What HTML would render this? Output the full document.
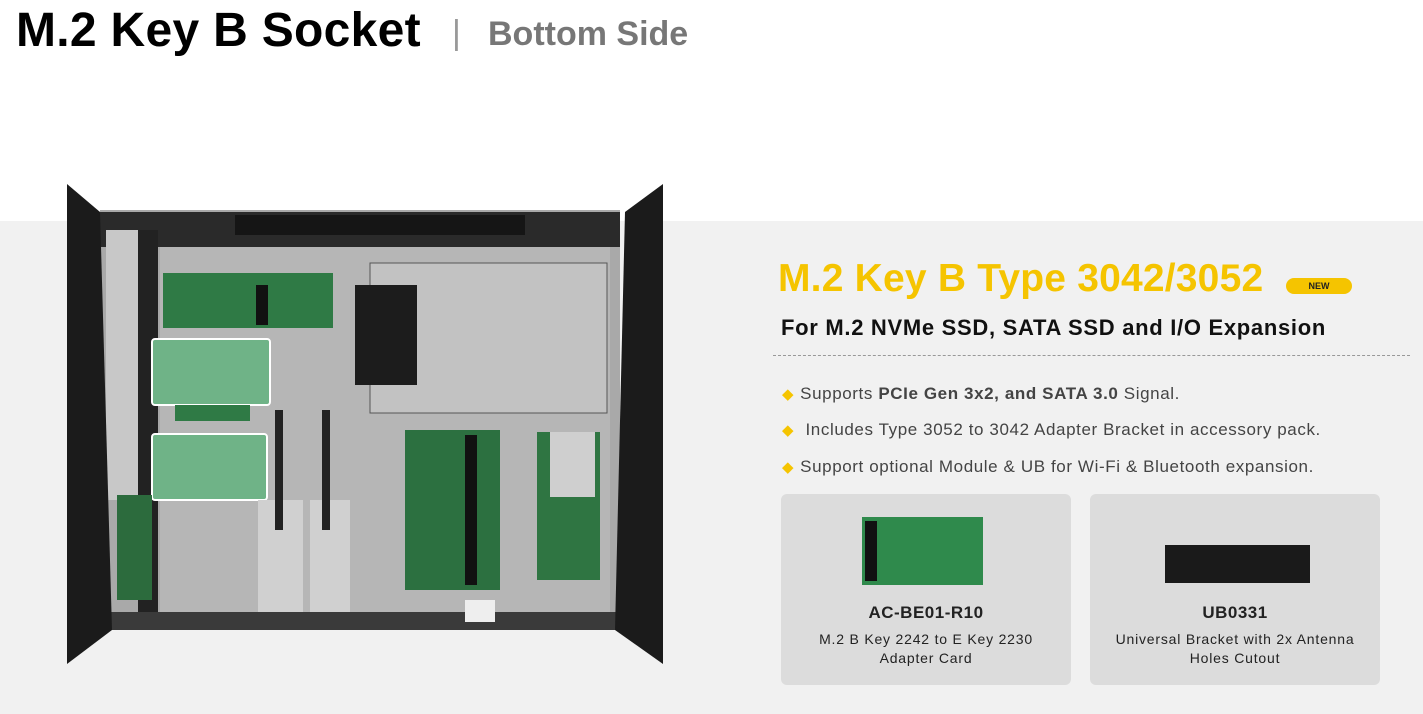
<!DOCTYPE html>
<html><head><meta charset="utf-8"><style>
*{margin:0;padding:0;box-sizing:border-box}
body{width:1423px;height:714px;position:relative;background:#fff;font-family:"Liberation Sans",sans-serif;overflow:hidden}
.a{position:absolute;white-space:nowrap}
.bul{position:absolute;left:782px;font-size:17px;letter-spacing:0.6px;color:#444;white-space:nowrap}
.bul i{font-style:normal;color:#f5c400;font-size:15px;margin-right:6px}
.card{position:absolute;top:494px;width:290px;height:191px;background:#dcdcdc;border-radius:6px;text-align:center;color:#222}
.card b{position:absolute;left:0;right:0;top:109px;font-size:17px;letter-spacing:0.5px}
.card p{position:absolute;left:0;right:0;top:136px;font-size:14px;letter-spacing:0.8px;line-height:19px}
</style></head><body>
<div class="a" style="left:0;top:221px;width:1423px;height:493px;background:#f1f1f1"></div>
<div class="a" style="left:16px;top:3px;font-size:48px;font-weight:bold;color:#000;letter-spacing:0.3px">M.2 Key B Socket</div>
<div class="a" style="left:452px;top:14px;font-size:34px;color:#999">|</div>
<div class="a" style="left:488px;top:15px;font-size:34px;font-weight:bold;color:#777">Bottom Side</div>

<svg class="a" style="left:0;top:0" width="700" height="714">
<rect x="100" y="210" width="520" height="420" fill="#a9a9a9"/>
<rect x="160" y="245" width="450" height="370" fill="#b6b6b6"/>
<rect x="100" y="212" width="520" height="35" fill="#2a2a2a"/>
<rect x="235" y="215" width="290" height="20" fill="#151515"/>
<rect x="106" y="230" width="32" height="270" fill="#c8c8c8"/>
<rect x="138" y="230" width="20" height="400" fill="#222"/>
<rect x="163" y="273" width="170" height="55" fill="#2f7a45"/>
<rect x="256" y="285" width="12" height="40" fill="#111"/>
<rect x="152" y="339" width="118" height="66" rx="3" fill="#6fb387" stroke="#fff" stroke-width="2"/>
<rect x="175" y="405" width="75" height="16" fill="#2f7a45"/>
<rect x="152" y="434" width="115" height="66" rx="3" fill="#6fb387" stroke="#fff" stroke-width="2"/>
<rect x="370" y="263" width="237" height="150" fill="#c2c2c2" stroke="#555"/>
<rect x="355" y="285" width="62" height="100" fill="#1c1c1c"/>
<rect x="405" y="430" width="95" height="160" fill="#2c7040"/>
<rect x="465" y="435" width="12" height="150" fill="#111"/>
<rect x="537" y="432" width="63" height="148" fill="#2f7542"/>
<rect x="550" y="432" width="45" height="65" fill="#cfcfcf"/>
<rect x="117" y="495" width="35" height="105" fill="#2c6b3d"/>
<rect x="258" y="500" width="45" height="115" fill="#d0d0d0"/>
<rect x="310" y="500" width="40" height="115" fill="#d0d0d0"/>
<rect x="275" y="410" width="8" height="120" fill="#222"/>
<rect x="322" y="410" width="8" height="120" fill="#222"/>
<rect x="100" y="612" width="520" height="18" fill="#3a3a3a"/>
<rect x="465" y="600" width="30" height="22" fill="#eee"/>
<polygon points="67,184 100,212 112,630 67,664" fill="#1b1b1b"/>
<polygon points="663,184 625,212 615,630 663,664" fill="#1b1b1b"/>
</svg>

<div class="a" style="left:778px;top:257px;font-size:39px;font-weight:bold;color:#f5c400;letter-spacing:0.2px">M.2 Key B Type 3042/3052</div>
<div class="a" style="left:1286px;top:278px;width:66px;height:16px;border-radius:8px;background:#f5c400;font-size:9px;font-weight:bold;text-align:center;line-height:16px;color:#222">NEW</div>
<div class="a" style="left:781px;top:315px;font-size:22px;font-weight:bold;color:#111;letter-spacing:0.7px">For M.2 NVMe SSD, SATA SSD and I/O Expansion</div>
<div class="a" style="left:773px;top:355px;width:637px;border-top:1px dashed #999"></div>
<div class="bul" style="top:384px"><i>◆</i>Supports <b>PCIe Gen 3x2, and SATA 3.0</b> Signal.</div>
<div class="bul" style="top:420px"><i>◆</i> Includes Type 3052 to 3042 Adapter Bracket in accessory pack.</div>
<div class="bul" style="top:457px"><i>◆</i>Support optional Module &amp; UB for Wi-Fi &amp; Bluetooth expansion.</div>

<div class="card" style="left:781px">
<div class="a" style="left:81px;top:23px;width:121px;height:68px;background:#2f8a4c"></div>
<div class="a" style="left:84px;top:27px;width:12px;height:60px;background:#111"></div>
<b>AC-BE01-R10</b><p>M.2 B Key 2242 to E Key 2230<br>Adapter Card</p></div>
<div class="card" style="left:1090px">
<div class="a" style="left:75px;top:51px;width:145px;height:38px;background:#1a1a1a"></div>
<b>UB0331</b><p>Universal Bracket with 2x Antenna<br>Holes Cutout</p></div>
</body></html>
